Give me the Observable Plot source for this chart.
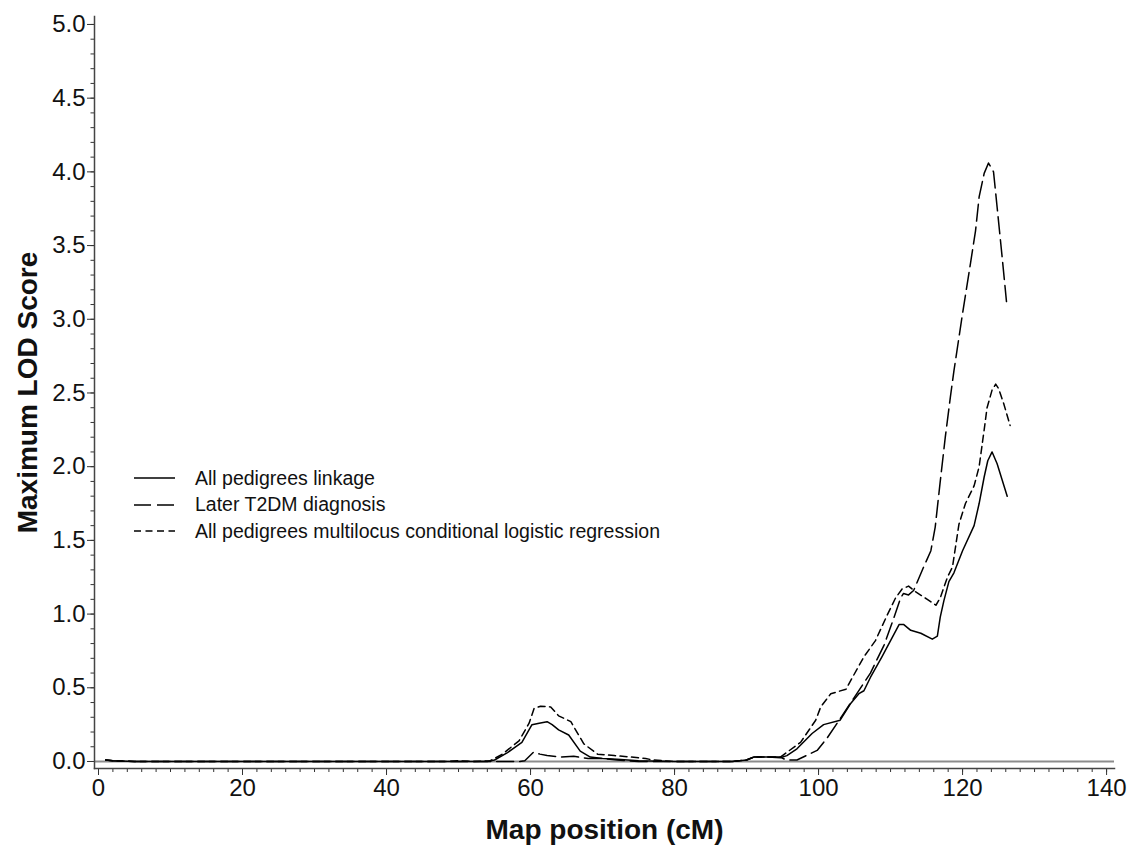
<!DOCTYPE html>
<html><head><meta charset="utf-8">
<script src="https://cdn.jsdelivr.net/npm/d3@7"></script>
<script src="https://cdn.jsdelivr.net/npm/@observablehq/plot@0.6"></script>
<style>
body{margin:0;background:#fff;}
#wrap{position:relative;width:1128px;height:849px;font-family:Arial,"Liberation Sans",Helvetica,sans-serif;}
#legend{position:absolute;left:134px;top:465px;font-size:19.5px;color:#111;}
#legend .row{display:flex;align-items:center;height:26.5px;}
#legend svg{margin-right:20px;}
</style></head><body><div id="wrap"><div id="legend"></div></div>
<script>
// Series names
const seriesNames = ["All pedigrees linkage", "Later T2DM diagnosis", "All pedigrees multilocus conditional logistic regression"];

// All pedigrees linkage (solid)
const linkageCM = [1, 2, 5, 50, 54, 55, 56.8, 58.8, 60.2, 61.2, 62.3, 63.0, 63.9, 65.3, 66.9, 68.3, 70, 72, 75, 80, 88, 90, 91, 93, 94.7, 95.6, 97, 99.1, 100.7, 103, 104.4, 105.6, 106.3, 107.2, 108.8, 110, 111.2, 111.8, 112.8, 114.2, 115.8, 116.5, 116.9, 117.4, 118.1, 118.8, 120, 121.6, 122.3, 123, 123.5, 124.1, 124.8, 125.5, 126.2];
const linkageLOD = [0.01, 0.005, 0, 0, 0, 0.01, 0.06, 0.13, 0.25, 0.26, 0.27, 0.25, 0.215, 0.18, 0.07, 0.03, 0.02, 0.015, 0.005, 0, 0, 0.01, 0.03, 0.03, 0.025, 0.04, 0.086, 0.19, 0.25, 0.28, 0.39, 0.46, 0.48, 0.57, 0.71, 0.82, 0.93, 0.93, 0.89, 0.87, 0.83, 0.85, 0.98, 1.09, 1.22, 1.28, 1.43, 1.60, 1.75, 1.93, 2.04, 2.10, 2.02, 1.91, 1.80];

// Later T2DM diagnosis (long dash)
const laterCM = [1, 2, 5, 58.5, 59.2, 60.4, 61.3, 62.3, 64.2, 66, 68, 70, 72, 75, 88, 90, 91, 94.7, 95.5, 97, 99.8, 101.2, 103, 104.9, 107.2, 109.1, 110.5, 111.4, 111.8, 112.5, 113.2, 114.6, 115.6, 116.2, 116.9, 117.6, 118.3, 118.8, 120, 121.1, 121.8, 122.3, 123, 123.6, 124.3, 124.8, 125.5, 126.1];
const laterLOD = [0.01, 0.005, 0, 0, 0.005, 0.063, 0.05, 0.04, 0.03, 0.035, 0.02, 0.02, 0.01, 0, 0, 0.01, 0.03, 0.03, 0.01, 0.01, 0.075, 0.16, 0.29, 0.43, 0.60, 0.79, 0.98, 1.11, 1.14, 1.13, 1.16, 1.32, 1.43, 1.59, 1.90, 2.20, 2.47, 2.65, 3.04, 3.38, 3.60, 3.83, 3.99, 4.06, 4.00, 3.76, 3.42, 3.12];

// All pedigrees multilocus conditional logistic regression (short dash)
const clrCM = [1, 2, 5, 48, 50, 52, 54.4, 56.1, 58.4, 59.8, 60.5, 61.4, 62.8, 63.9, 65.6, 67.4, 69.3, 71.6, 74, 76, 77, 80, 88, 90, 91, 94.7, 97.5, 99.6, 100.3, 101.7, 103.8, 104.7, 106.3, 107.9, 109.5, 110.7, 111.6, 112.5, 113.5, 115.1, 116.3, 116.9, 117.9, 118.6, 119.5, 120.4, 121.6, 122.3, 123, 123.4, 124.1, 124.6, 125, 125.7, 126.6];
const clrLOD = [0.01, 0.005, 0, 0, 0.005, 0, 0.005, 0.05, 0.14, 0.26, 0.36, 0.375, 0.37, 0.31, 0.27, 0.12, 0.05, 0.04, 0.03, 0.02, 0.01, 0, 0, 0.01, 0.03, 0.03, 0.13, 0.28, 0.37, 0.46, 0.49, 0.57, 0.71, 0.82, 0.99, 1.11, 1.17, 1.19, 1.15, 1.10, 1.06, 1.11, 1.25, 1.32, 1.61, 1.75, 1.87, 2.00, 2.25, 2.40, 2.52, 2.56, 2.53, 2.43, 2.28];

// Ticks
const xMajorTicks = [0, 20, 40, 60, 80, 100, 120, 140];
const xMinorTicks = d3.range(0, 141, 2);
const yMajorTicks = [0, 0.5, 1, 1.5, 2, 2.5, 3, 3.5, 4, 4.5, 5];
const yMinorTicks = d3.range(0, 51, 1).map(d => d / 10);

const dashes = [null, "17,6", "7,4.5"];

const toRows = (cm, lod) => cm.map((c, i) => ({cM: c, lod: lod[i]}));
const seriesData = [toRows(linkageCM, linkageLOD), toRows(laterCM, laterLOD), toRows(clrCM, clrLOD)];

const chart = Plot.plot({
  width: 1128,
  height: 849,
  marginLeft: 94,
  marginRight: 14,
  marginTop: 16,
  marginBottom: 81,
  style: {fontFamily: "Arial, 'Liberation Sans', Helvetica, sans-serif", fontSize: "24px", color: "#111", background: "#fff"},
  x: {domain: [-0.556, 141.1]},
  y: {domain: [-0.0475, 5.054]},
  marks: [
    Plot.ruleY([0], {stroke: "#8c8c8c", strokeWidth: 2}),
    Plot.axisY(yMinorTicks, {tickSize: 3.5, text: null, label: null, stroke: "#333"}),
    Plot.axisY(yMajorTicks, {tickSize: 7, tickPadding: 2, tickFormat: d3.format(".1f"), label: null, fontSize: 24, stroke: "#333"}),
    Plot.axisX(xMinorTicks, {tickSize: 4, text: null, label: null, stroke: "#333"}),
    Plot.axisX(xMajorTicks, {tickSize: 7, tickPadding: 3, tickFormat: d3.format("d"), label: null, fontSize: 24, stroke: "#333"}),
    Plot.frame({anchor: "left", stroke: "#444", strokeWidth: 1.5}),
    Plot.frame({anchor: "bottom", stroke: "#444", strokeWidth: 1.5}),
    ...seriesData.map((rows, i) => Plot.line(rows, {x: "cM", y: "lod", stroke: "#000", strokeWidth: 1.5, strokeDasharray: dashes[i]})),
    Plot.text(["Map position (cM)"], {frameAnchor: "bottom", dy: 62, fontSize: 28, fontWeight: "bold", lineAnchor: "middle", textAnchor: "middle"}),
    Plot.text(["Maximum LOD Score"], {frameAnchor: "left", dx: -66, rotate: -90, fontSize: 28, fontWeight: "bold", lineAnchor: "middle", textAnchor: "middle"})
  ]
});
document.getElementById("wrap").prepend(chart);

// Legend
const legend = document.getElementById("legend");
seriesNames.forEach((name, i) => {
  const row = document.createElement("div");
  row.className = "row";
  const dash = dashes[i] ? ` stroke-dasharray="${dashes[i]}"` : "";
  row.innerHTML = `<svg width="41" height="6"><line x1="0" y1="3" x2="41" y2="3" stroke="#000" stroke-width="1.6"${dash}/></svg><span>${name}</span>`;
  legend.appendChild(row);
});
</script>
</body></html>
